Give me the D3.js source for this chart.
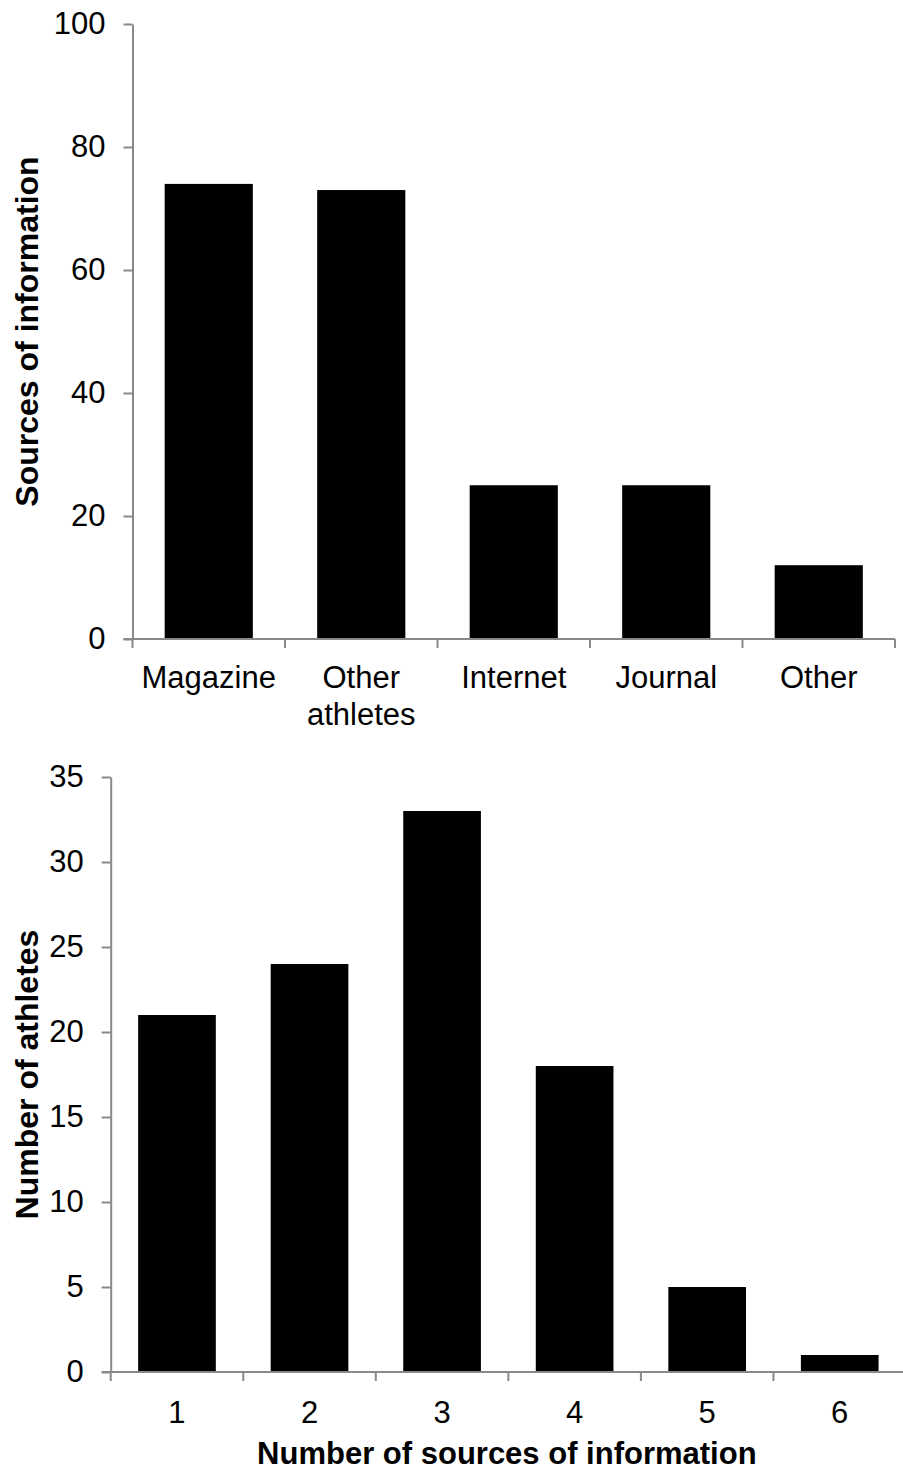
<!DOCTYPE html>
<html>
<head>
<meta charset="utf-8">
<script src="https://cdn.jsdelivr.net/npm/d3@7"></script>
<style>
  html, body { margin: 0; padding: 0; background: #fff; }
  svg { display: block; }
  text { font-family: "Liberation Sans", Arial, sans-serif; fill: #000; }
</style>
</head>
<body>
<svg id="chart" width="903" height="1472"></svg>
<script>
// ---- Data ----
const topCategories = ["Magazine", "Other\nathletes", "Internet", "Journal", "Other"];
const topValues = [74, 73, 25, 25, 12];
const topTicks = [0, 20, 40, 60, 80, 100];
const topYTitle = "Sources of information";

const bottomCategories = ["1", "2", "3", "4", "5", "6"];
const bottomValues = [21, 24, 33, 18, 5, 1];
const bottomTicks = [0, 5, 10, 15, 20, 25, 30, 35];
const bottomYTitle = "Number of athletes";
const bottomXTitle = "Number of sources of information";

const svg = d3.select("#chart");
const axisColor = "#898989";

function drawPanel(cfg) {
  const g = svg.append("g");
  const x = d3.scaleBand().domain(cfg.categories).range([cfg.x0, cfg.x1]).padding(0);
  const y = d3.scaleLinear().domain([cfg.ticks[0], cfg.ticks[cfg.ticks.length - 1]]).range([cfg.y0, cfg.y1]);

  // bars
  const bw = x.bandwidth() * cfg.barFrac;
  g.selectAll("rect.bar").data(cfg.values).enter().append("rect")
    .attr("class", "bar")
    .attr("x", (d, i) => x(cfg.categories[i]) + (x.bandwidth() - bw) / 2)
    .attr("width", bw)
    .attr("y", d => y(d))
    .attr("height", d => y(0) - y(d))
    .attr("fill", "#000");

  // y axis
  const yAxis = d3.axisLeft(y).tickValues(cfg.ticks).tickSize(9).tickSizeOuter(0).tickPadding(18);
  const ya = g.append("g").attr("transform", `translate(${cfg.x0},0)`).call(yAxis);
  ya.select(".domain").attr("stroke", axisColor).attr("stroke-width", 2);
  ya.selectAll(".tick line").attr("stroke", axisColor).attr("stroke-width", 2);
  ya.selectAll(".tick text").style("font-size", "31px").attr("fill", "#000")
    .attr("font-family", "Liberation Sans, Arial, sans-serif");

  // x axis line
  g.append("line").attr("x1", cfg.x0 - 9).attr("x2", cfg.x1)
    .attr("y1", y(0)).attr("y2", y(0))
    .attr("stroke", axisColor).attr("stroke-width", 2);
  // x boundary ticks
  const bounds = cfg.categories.map(c => x(c)).concat([x.range()[1]]);
  g.selectAll("line.xt").data(bounds).enter().append("line")
    .attr("class", "xt")
    .attr("x1", d => d).attr("x2", d => d)
    .attr("y1", y(0)).attr("y2", y(0) + 9)
    .attr("stroke", axisColor).attr("stroke-width", 2);

  // x labels
  cfg.categories.forEach(c => {
    const lines = c.split("\n");
    const t = g.append("text")
      .attr("x", x(c) + x.bandwidth() / 2)
      .attr("y", y(0) + cfg.labelOffset)
      .attr("text-anchor", "middle")
      .style("font-size", "31px");
    lines.forEach((ln, i) => {
      t.append("tspan").attr("x", x(c) + x.bandwidth() / 2)
        .attr("dy", i === 0 ? "0.71em" : "1.19em").text(ln);
    });
  });

  // y title
  g.append("text")
    .attr("transform", `translate(38,${(cfg.y0 + cfg.y1) / 2}) rotate(-90)`)
    .attr("text-anchor", "middle")
    .style("font-size", "32px").style("font-weight", "bold")
    .text(cfg.yTitle);

  if (cfg.xTitle) {
    g.append("text")
      .attr("x", (cfg.x0 + 903) / 2)
      .attr("y", 1464)
      .attr("text-anchor", "middle")
      .style("font-size", "31px").style("font-weight", "bold")
      .text(cfg.xTitle);
  }
}

drawPanel({
  categories: topCategories, values: topValues, ticks: topTicks,
  x0: 132.5, x1: 895, y0: 639, y1: 24, barFrac: 0.578,
  labelOffset: 27, yTitle: topYTitle
});

drawPanel({
  categories: bottomCategories, values: bottomValues, ticks: bottomTicks,
  x0: 110.7, x1: 906, y0: 1372, y1: 777, barFrac: 0.586,
  labelOffset: 29, yTitle: bottomYTitle, xTitle: bottomXTitle
});
</script>
</body>
</html>
